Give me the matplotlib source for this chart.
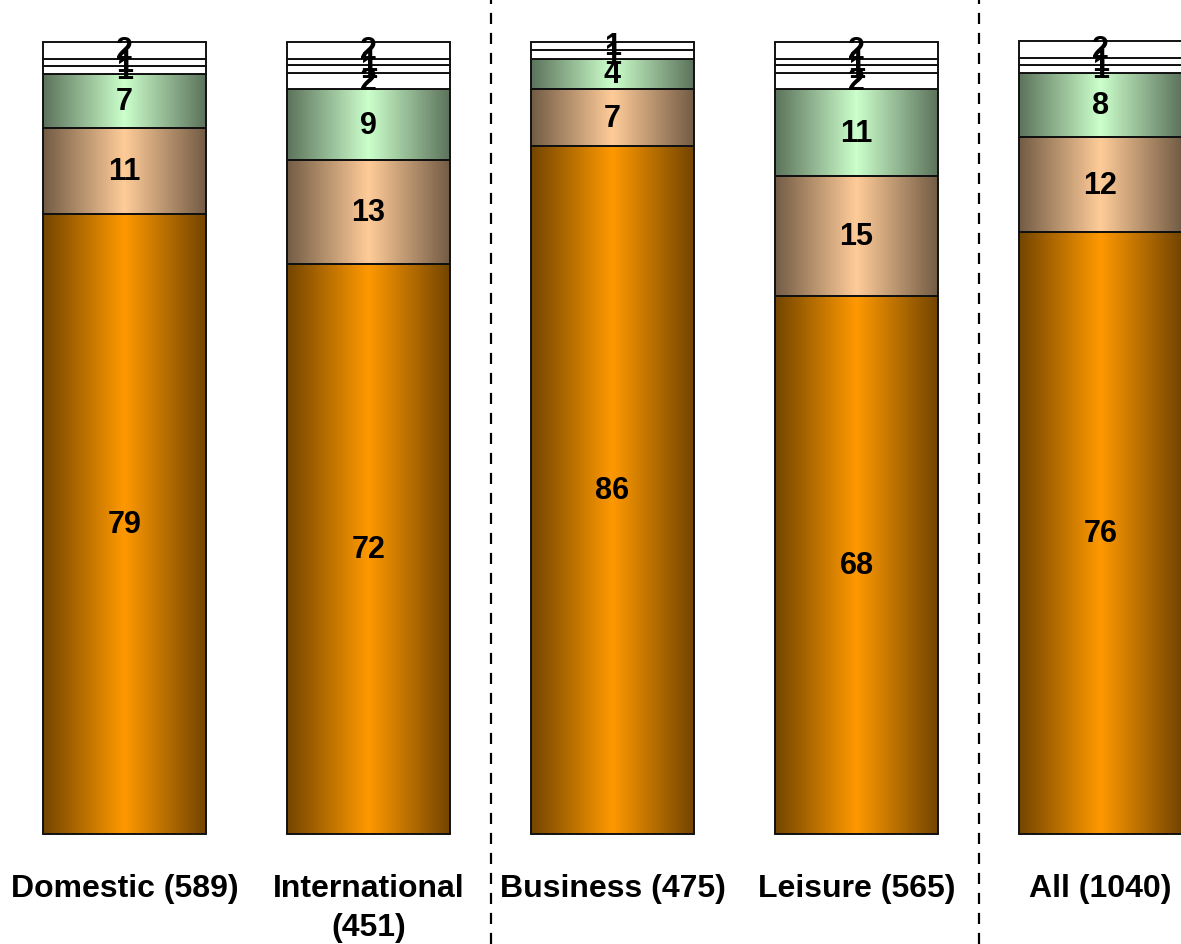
import numpy as np
import matplotlib
matplotlib.use("Agg")
import matplotlib.pyplot as plt
from matplotlib.colors import to_rgb

plt.rcParams['font.family'] = ['Liberation Sans', 'DejaVu Sans']

categories = ["Domestic (589)", "International\n(451)", "Business (475)", "Leisure (565)", "All (1040)"]

# stacked segments, bottom to top (percent)
seg1 = [78.2, 71.9, 86.8, 67.9, 76.0]
seg2 = [10.9, 13.1, 7.2, 15.1, 11.9]
seg3 = [6.8, 9.0, 3.8, 11.0, 8.1]
seg4 = [0.0, 2.0, 0.0, 2.0, 0.0]
seg5 = [1.0, 1.0, 0.0, 1.0, 1.0]
seg6 = [0.9, 0.8, 1.1, 0.8, 0.9]
seg7 = [2.2, 2.2, 1.1, 2.2, 2.2]

# printed labels (rounded values as shown)
lab1 = ["79", "72", "86", "68", "76"]
lab2 = ["11", "13", "7", "15", "12"]
lab3 = ["7", "9", "4", "11", "8"]
lab4 = ["", "2", "", "2", ""]
lab5 = ["1", "1", "", "1", "1"]
lab6 = ["1", "1", "1", "1", "1"]
lab7 = ["2", "2", "1", "2", "2"]

segments = [seg1, seg2, seg3, seg4, seg5, seg6, seg7]
labels = [lab1, lab2, lab3, lab4, lab5, lab6, lab7]
light_colors = ["#FF9900", "#FFCC99", "#CCFFCC", None, None, None, None]

W, H = 1181, 945
fig = plt.figure(figsize=(W / 100, H / 100), dpi=100)
ax_bottom = (H - 835) / H
ax_height = 792.5 / H
ax = fig.add_axes([0, ax_bottom, 1, ax_height])

x = np.arange(len(categories))
width = 0.668
N = 256
u = np.linspace(0, 1, N)
t = 1 - np.abs(2 * u - 1)

def gradient(color, dark=0.45):
    c = np.array(to_rgb(color))
    d = c * dark
    arr = d[None, :] + (c - d)[None, :] * t[:, None]
    return arr[None, :, :]

bottom = np.zeros(len(categories))
for seg, labs, col in zip(segments, labels, light_colors):
    seg = np.array(seg)
    for i in range(len(categories)):
        if seg[i] <= 0:
            continue
        if col is not None:
            ax.imshow(gradient(col), extent=[x[i] - width / 2, x[i] + width / 2,
                                             bottom[i], bottom[i] + seg[i]],
                      aspect='auto', interpolation='bilinear', zorder=1)
    bars = ax.bar(x, seg, width, bottom=bottom,
                  facecolor='white' if col is None else 'none',
                  edgecolor='#111111', linewidth=1.4, zorder=2)
    for b in bars:
        b.set_clip_on(False)
    for i in range(len(categories)):
        if seg[i] > 0 and labs[i]:
            ax.text(x[i], bottom[i] + seg[i] / 2, labs[i], ha='center', va='center',
                    fontsize=22, fontweight='bold', color='black', zorder=3)
    bottom = bottom + seg

# dashed separators across the full figure height
for xs in [1.5, 3.5]:
    ax.axvline(xs, ymin=-ax_bottom / ax_height, ymax=(1 - ax_bottom) / ax_height,
               color='black', linestyle=(0, (5, 4)), linewidth=1.6, clip_on=False, zorder=0)

left = -124.5 / 244
right = (W - 124.5) / 244
ax.set_xlim(left, right)
ax.set_ylim(0, 100)
ax.set_xticks(x)
ax.set_xticklabels(categories, fontsize=23, fontweight='bold', linespacing=1.4)
ax.tick_params(axis='x', length=0, pad=28)
ax.set_yticks([])
for s in ax.spines.values():
    s.set_visible(False)

fig.savefig("out.png", dpi=100)
